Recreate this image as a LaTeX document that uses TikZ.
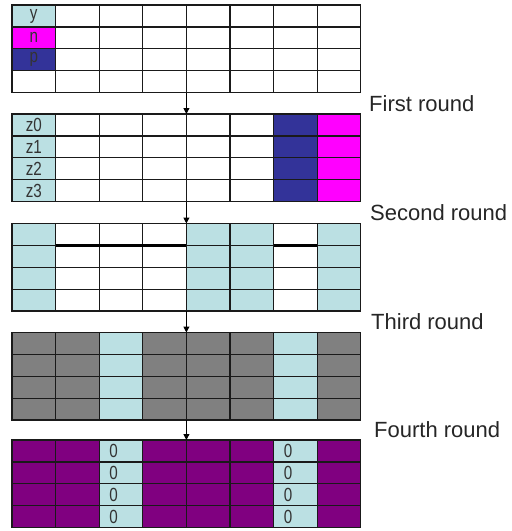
\documentclass[tikz,border=0pt]{standalone}
\usepackage{fontspec}
\setmainfont{Liberation Sans}
\usepackage{graphicx}
\usetikzlibrary{arrows.meta}
\definecolor{lcyan}{HTML}{BBE0E3}
\definecolor{mag}{HTML}{FF00FF}
\definecolor{dblue}{HTML}{333399}
\definecolor{dgray}{HTML}{808080}
\definecolor{purp}{HTML}{800080}
\definecolor{linec}{HTML}{1A1A1A}
\begin{document}
\begin{tikzpicture}[x=1pt,y=-1pt,
  gridbox/.style={draw=linec,line width=1.3pt,minimum width=348.8pt,minimum height=87.6pt,inner sep=0pt,outer sep=0pt},
  gline/.style={draw=linec,line width=1.2pt},
  thickline/.style={draw=black,line width=2.4pt},
  arr/.style={draw=black,line width=1pt,-{Triangle[length=6pt,width=6pt]}},
  roundlbl/.style={anchor=base west,inner sep=0pt,font=\fontsize{22}{26}\selectfont,text=black!85},
  celltxt/.style={inner sep=0pt,font=\fontsize{19}{22}\selectfont,text=black!80}
]
\useasboundingbox (0,0) rectangle (512,531);
\def\cw{43.6}
\def\rh{21.9}
\def\gx{12}
% helper: fill cell (col, row) of grid with top T
\newcommand\cellfill[4]{% color, col (1..8), row (1..4), top
  \fill[#1] ({\gx+(#2-1)*\cw},{#4+(#3-1)*\rh}) rectangle ({\gx+#2*\cw},{#4+#3*\rh});}
\newcommand\gridlines[1]{%
  \foreach \i in {1,...,7} {\draw[gline] ({\gx+\i*\cw},#1) -- ({\gx+\i*\cw},{#1+4*\rh});}
  \foreach \j in {1,2,3} {\draw[gline] (\gx,{#1+\j*\rh}) -- ({\gx+8*\cw},{#1+\j*\rh});}}
\def\Ta{5}
\def\Tb{114}
\def\Tc{223.5}
\def\Td{332.5}
\def\Te{440}
% ---- grid 1
\cellfill{lcyan}{1}{1}{\Ta}
\cellfill{mag}{1}{2}{\Ta}
\cellfill{dblue}{1}{3}{\Ta}
\gridlines{\Ta}
\node[gridbox] (g1) at ({\gx+4*\cw},{\Ta+2*\rh}) {};
\node[celltxt] (ty) at ({\gx+0.5*\cw},{\Ta+0.5*\rh}) {\scalebox{0.8}[1]{y}};
\node[celltxt] (tn) at ({\gx+0.5*\cw},{\Ta+1.5*\rh}) {\scalebox{0.8}[1]{n}};
\node[celltxt] (tp) at ({\gx+0.5*\cw},{\Ta+2.5*\rh}) {\scalebox{0.8}[1]{p}};
% ---- grid 2
\foreach \r in {1,...,4} {\cellfill{lcyan}{1}{\r}{\Tb}\cellfill{dblue}{7}{\r}{\Tb}\cellfill{mag}{8}{\r}{\Tb}}
\gridlines{\Tb}
\node[gridbox] (g2) at ({\gx+4*\cw},{\Tb+2*\rh}) {};
\foreach \r/\t in {1/z0,2/z1,3/z2,4/z3}
  \node[celltxt] (tz\r) at ({\gx+0.5*\cw},{\Tb+(\r-0.5)*\rh}) {\scalebox{0.8}[1]{\t}};
% ---- grid 3
\foreach \r in {1,...,4} {\foreach \c in {1,5,6,8} {\cellfill{lcyan}{\c}{\r}{\Tc}}}
\gridlines{\Tc}
\draw[thickline] ({\gx+\cw},{\Tc+\rh}) -- ({\gx+4*\cw},{\Tc+\rh});
\draw[thickline] ({\gx+6*\cw},{\Tc+\rh}) -- ({\gx+7*\cw},{\Tc+\rh});
\node[gridbox] (g3) at ({\gx+4*\cw},{\Tc+2*\rh}) {};
% ---- grid 4
\fill[dgray] (\gx,\Td) rectangle ({\gx+8*\cw},{\Td+4*\rh});
\foreach \r in {1,...,4} {\foreach \c in {3,7} {\cellfill{lcyan}{\c}{\r}{\Td}}}
\gridlines{\Td}
\node[gridbox] (g4) at ({\gx+4*\cw},{\Td+2*\rh}) {};
% ---- grid 5
\fill[purp] (\gx,\Te) rectangle ({\gx+8*\cw},{\Te+4*\rh});
\foreach \r in {1,...,4} {\foreach \c in {3,7} {\cellfill{lcyan}{\c}{\r}{\Te}}}
\gridlines{\Te}
\node[gridbox] (g5) at ({\gx+4*\cw},{\Te+2*\rh}) {};
\foreach \r in {1,...,4} {\foreach \c in {3,7} {
  \node[celltxt,anchor=west] (zero\c\r) at ({\gx+(\c-1)*\cw+10},{\Te+(\r-0.5)*\rh}) {\scalebox{0.8}[1]{0}};}}
% ---- arrows
\draw[arr] (g1.south) -- (g2.north);
\draw[arr] (g2.south) -- (g3.north);
\draw[arr] (g3.south) -- (g4.north);
\draw[arr] (g4.south) -- (g5.north);
% ---- labels
\node[roundlbl] (l1) at (369,111) {First round};
\node[roundlbl] (l2) at (370,220) {Second round};
\node[roundlbl] (l3) at (371,329) {Third round};
\node[roundlbl] (l4) at (374,437) {Fourth round};
\end{tikzpicture}
\end{document}
